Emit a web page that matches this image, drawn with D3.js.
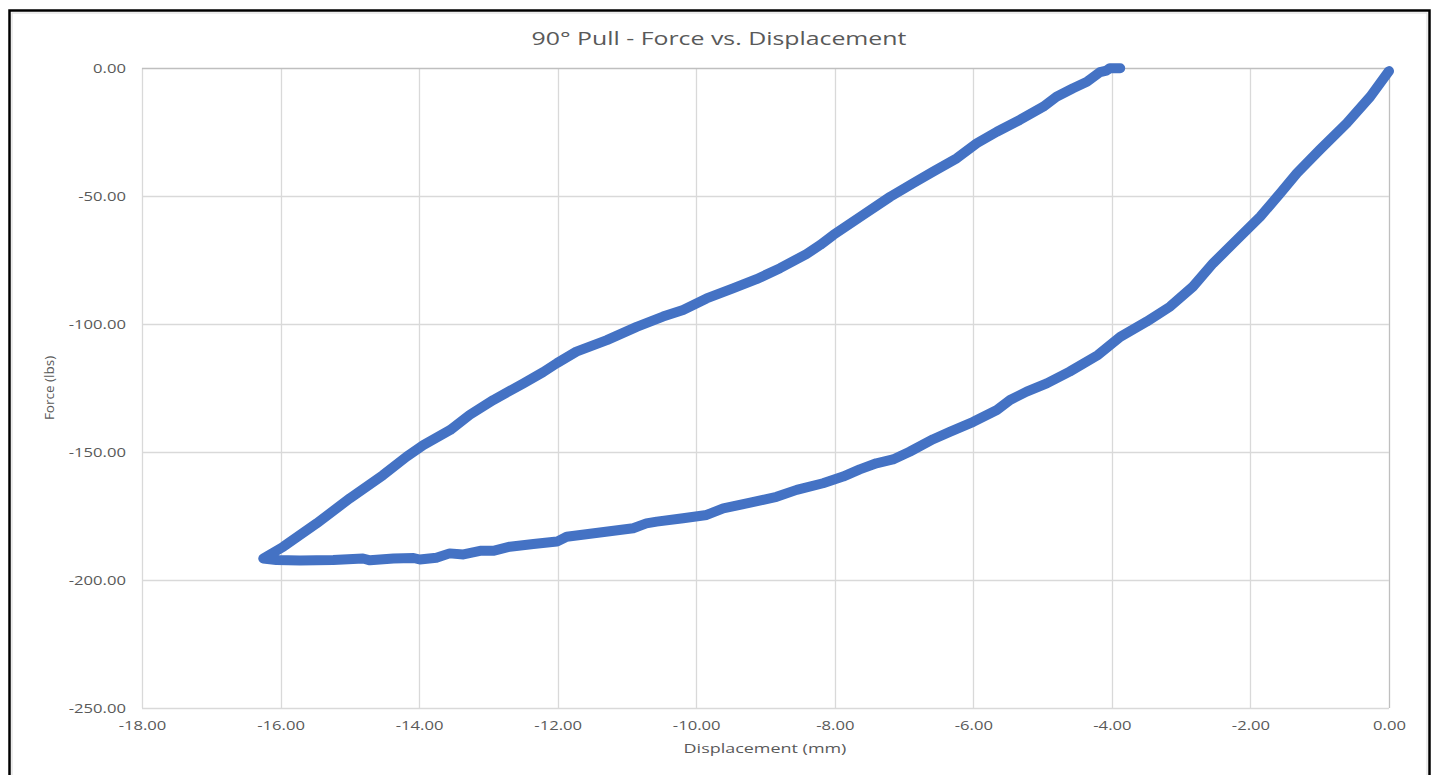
<!DOCTYPE html>
<html>
<head>
<meta charset="utf-8">
<script src="https://cdnjs.cloudflare.com/ajax/libs/d3/7.8.5/d3.min.js"></script>
<style>
  body { margin: 0; background: #fff; }
  svg { display: block; }
  text { font-family: "Open Sans", "Liberation Sans", sans-serif; fill: #595959; }
</style>
</head>
<body>
<div id="chart"></div>
<script>
// loading branch (starts at 0,0 and runs out to the peak)
var loadDisp = [0.00, -0.27, -0.61, -1.00, -1.33, -1.57, -1.86, -2.20, -2.54, -2.83, -3.16, -3.50, -3.88, -4.20,
  -4.61, -4.94, -5.23, -5.47, -5.66, -6.00, -6.34, -6.58, -6.92, -7.16, -7.40, -7.64, -7.88, -8.17, -8.55,
  -8.84, -9.22, -9.61, -9.85, -10.19, -10.57, -10.72, -10.91, -11.87, -12.01, -12.35, -12.69, -12.93, -13.12,
  -13.36, -13.56, -13.75, -13.99, -14.08, -14.37, -14.71, -14.81, -15.24, -15.72, -16.06, -16.25];
var loadForce = [-1.2, -11.2, -21.6, -32.0, -41.1, -48.9, -58.1, -67.2, -76.3, -85.4, -93.2, -99.1, -105.0, -112.1,
  -118.6, -123.2, -126.4, -129.7, -133.6, -138.2, -142.1, -145.0, -149.9, -152.9, -154.4, -156.8, -159.6, -162.2, -164.8,
  -167.5, -169.8, -172.0, -174.6, -175.9, -177.2, -177.9, -179.8, -183.1, -185.0, -185.9, -187.0, -188.6, -188.6,
  -190.0, -189.6, -191.3, -192.0, -191.4, -191.6, -192.3, -191.6, -192.2, -192.4, -192.2, -191.6];

// unloading branch (peak back up to zero force)
var unloadDisp = [-15.96, -15.48, -15.00, -14.52, -14.18, -13.94, -13.55, -13.27, -12.93, -12.50, -12.21, -12.01,
  -11.73, -11.29, -10.86, -10.48, -10.19, -9.85, -9.47, -9.13, -8.79, -8.41, -8.21, -8.02, -7.59, -7.20, -6.87,
  -6.58, -6.24, -5.95, -5.66, -5.33, -4.99, -4.80, -4.56, -4.36, -4.17, -4.08, -4.03, -3.88];
var unloadForce = [-187.0, -177.9, -168.1, -159.0, -151.8, -147.3, -141.4, -135.5, -129.7, -123.3, -118.8, -115.3,
  -110.8, -106.3, -101.1, -97.1, -94.5, -90.0, -86.1, -82.5, -78.2, -72.7, -69.1, -65.2, -57.4, -50.3, -45.0,
  -40.5, -35.3, -29.4, -24.9, -20.3, -15.1, -11.2, -7.9, -5.4, -1.6, -1.0, -0.1, -0.1];

var xTicks = [-18, -16, -14, -12, -10, -8, -6, -4, -2, 0];
var yTicks = [0, -50, -100, -150, -200, -250];

var chartTitle = "90\u00b0 Pull - Force vs. Displacement";
var xTitle = "Displacement (mm)";
var yTitle = "Force (lbs)";

drawChart();

function drawChart() {
  var W = 1436, H = 775;
  var stretch = 1.28; // horizontal text looks wider than the font

  var svg = d3.select("#chart").append("svg")
    .attr("width", W).attr("height", H);

  // chart frame
  svg.append("rect")
    .attr("x", 9.5).attr("y", 10.5).attr("width", 1420).attr("height", 780)
    .attr("fill", "none").attr("stroke", "#000").attr("stroke-width", 2.5);
  svg.append("rect")
    .attr("x", 12).attr("y", 13).attr("width", 1415).attr("height", 780)
    .attr("fill", "none").attr("stroke", "#d9d9d9").attr("stroke-width", 1);

  var x = d3.scaleLinear().domain([-18, 0]).range([142, 1389]);
  var y = d3.scaleLinear().domain([-250, 0]).range([708, 68]);
  var fmt = function(d) { return d.toFixed(2); };

  // gridlines
  svg.append("g").selectAll("line")
    .data(xTicks)
    .enter().append("line")
      .attr("x1", function(d) { return Math.round(x(d)) + 0.5; })
      .attr("x2", function(d) { return Math.round(x(d)) + 0.5; })
      .attr("y1", y(-250)).attr("y2", y(0))
      .attr("stroke", function(d) { return d == 0 ? "#bfbfbf" : "#d9d9d9"; })
      .attr("stroke-width", 1.3);
  svg.append("g").selectAll("line")
    .data(yTicks)
    .enter().append("line")
      .attr("y1", function(d) { return Math.round(y(d)) + 0.5; })
      .attr("y2", function(d) { return Math.round(y(d)) + 0.5; })
      .attr("x1", x(-18)).attr("x2", x(0))
      .attr("stroke", function(d) { return d == 0 ? "#bfbfbf" : "#d9d9d9"; })
      .attr("stroke-width", 1.3);

  // axes, labels only
  var xAxis = svg.append("g")
    .attr("transform", "translate(0," + y(-250) + ")")
    .call(d3.axisBottom(x).tickValues(xTicks).tickFormat(fmt).tickSize(0).tickPadding(13));
  var yAxis = svg.append("g")
    .attr("transform", "translate(" + x(-18) + ",0)")
    .call(d3.axisLeft(y).tickValues(yTicks).tickFormat(fmt).tickSize(0).tickPadding(16));
  [xAxis, yAxis].forEach(function(a) {
    a.select(".domain").remove();
    a.selectAll("text")
      .style("font-family", null).attr("font-family", null)
      .attr("font-size", null).style("font-size", "13px").attr("fill", "#595959");
  });
  xAxis.selectAll("text").attr("transform", "scale(" + stretch + ",1)");
  yAxis.selectAll("text")
    .attr("x", -16 / stretch)
    .attr("transform", "scale(" + stretch + ",1)");

  // the curve
  var pts = [];
  loadDisp.forEach(function(d, i) { pts.push([d, loadForce[i]]); });
  unloadDisp.forEach(function(d, i) { pts.push([d, unloadForce[i]]); });

  var line = d3.line()
    .x(function(d) { return x(d[0]); })
    .y(function(d) { return y(d[1]); });

  svg.append("path")
    .datum(pts)
    .attr("d", line)
    .attr("fill", "none")
    .attr("stroke", "#4472c4")
    .attr("stroke-width", 10)
    .attr("stroke-linejoin", "round")
    .attr("stroke-linecap", "round");

  // titles
  svg.append("g").attr("transform", "translate(719,45) scale(1.38,1)")
    .append("text").attr("text-anchor", "middle").style("font-size", "18px").text(chartTitle);
  svg.append("g").attr("transform", "translate(765,753) scale(1.33,1)")
    .append("text").attr("text-anchor", "middle").style("font-size", "13.5px").text(xTitle);
  svg.append("text")
    .attr("transform", "translate(54,388) rotate(-90)")
    .attr("text-anchor", "middle").style("font-size", "13.5px").text(yTitle);
}
</script>
</body>
</html>
